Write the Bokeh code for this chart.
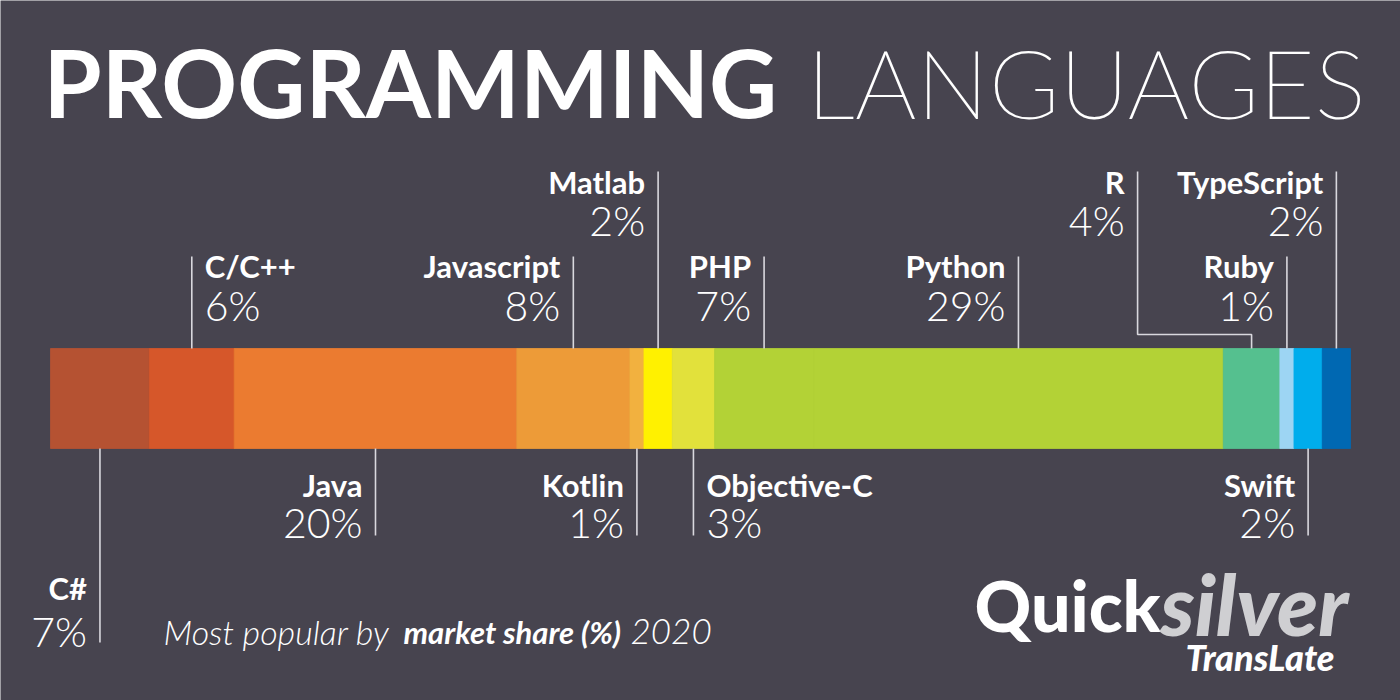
from bokeh.plotting import figure
from bokeh.models import ColumnDataSource, Range1d
from bokeh.core.properties import value
from bokeh.embed import file_html
from bokeh.resources import INLINE

# ---------------- data ----------------
languages = ["C#", "C/C++", "Java", "Javascript", "Kotlin", "Matlab", "Objective-C",
             "PHP", "Python", "R", "Ruby", "Swift", "TypeScript"]
share = [7, 6, 20, 8, 1, 2, 3, 7, 29, 4, 1, 2, 2]
colors = ["#b55232", "#d6572a", "#eb7b30", "#ed9b38", "#f2b13f", "#fff100", "#e2e13b",
          "#b3d236", "#b3d236", "#55c08f", "#9dd5f3", "#00adec", "#0068b2"]
title_bold = "PROGRAMMING"
title_light = "LANGUAGES"
subtitle_parts = ["Most popular by", "market share (%)", "2020"]
logo_parts = ["Quick", "silver", "TransLate"]

# ---------------- layout ----------------
W, H = 1400, 700
BG = "#47444f"
BAR_L, BAR_R = 50, 1350          # px
BAR_TOP, BAR_BOT = 348, 448      # px from top
total = sum(share)
u = total / (BAR_R - BAR_L)      # data units per pixel
x0 = -BAR_L * u
x1 = total + (W - BAR_R) * u

p = figure(width=W, height=H, output_backend="svg", toolbar_location=None,
           x_range=Range1d(x0, x1), y_range=Range1d(H, 0),
           min_border=0, background_fill_color=BG, border_fill_color=BG,
           outline_line_color=None)
p.axis.visible = False
p.grid.visible = False

left, right = [], []
acc = 0
for s in share:
    left.append(acc)
    acc += s
    right.append(acc)
centers = [(a + b) / 2 for a, b in zip(left, right)]

bars = ColumnDataSource(dict(left=left, right=right, color=colors, name=languages))
p.quad(left="left", right="right", top=BAR_TOP, bottom=BAR_BOT, fill_color="color",
       line_color="color", line_width=0.8, source=bars)

placement = {
    "C#": ("bottom", 2, "right"),
    "C/C++": ("top", 2, "left"),
    "Java": ("bottom", 1, "right"),
    "Javascript": ("top", 2, "right"),
    "Kotlin": ("bottom", 1, "right"),
    "Matlab": ("top", 1, "right"),
    "Objective-C": ("bottom", 1, "left"),
    "PHP": ("top", 2, "right"),
    "Python": ("top", 2, "right"),
    "R": ("top", 1, "right"),
    "Ruby": ("top", 2, "right"),
    "Swift": ("bottom", 1, "right"),
    "TypeScript": ("top", 1, "right"),
}
# (line end, name centre, pct centre)  -- px from top
levels = {
    ("top", 1): (171, 181, 220),
    ("top", 2): (256, 265, 305),
    ("bottom", 1): (535, 484, 522),
    ("bottom", 2): (642, 587, 631),
}
R_ELBOW_PX = -114
R_ELBOW_Y = 334
GAP = 13

xs, ys = [], []
tx, tname_y, tpct_y, talign, toff, tname, tpct = [], [], [], [], [], [], []
for lang, s, c in zip(languages, share, centers):
    side, lvl, align = placement[lang]
    end, ny, py = levels[(side, lvl)]
    edge = BAR_TOP if side == "top" else BAR_BOT
    if lang == "R":
        lx = c + R_ELBOW_PX * u
        xs.append([c, c, lx, lx])
        ys.append([edge, R_ELBOW_Y, R_ELBOW_Y, end])
    else:
        lx = c
        xs.append([c, c])
        ys.append([edge, end])
    tx.append(lx)
    tname_y.append(ny)
    tpct_y.append(py)
    talign.append(align)
    toff.append(GAP if align == "left" else -GAP)
    tname.append(lang)
    tpct.append(f"{s}%")

p.multi_line(xs=xs, ys=ys, line_color="#d9d8de", line_width=1.6)

lab = ColumnDataSource(dict(x=tx, ny=tname_y, py=tpct_y, align=talign, off=toff,
                            name=tname, pct=tpct))
p.text(x="x", y="ny", text="name", x_offset="off", text_align="align",
       text_baseline="middle", text_font=value("Lato"), text_font_style="bold",
       text_font_size="31px", text_color="white", source=lab)
p.text(x="x", y="py", text="pct", x_offset="off", text_align="align",
       text_baseline="middle", text_font=value("Lato Light"),
       text_font_size="41px", text_color="white", source=lab)


def deco(px, py, text, font, style, size, color="white"):
    p.text(x=[x0 + px * u], y=[py], text=[text], text_align="left",
           text_baseline="middle", text_font=value(font), text_font_style=style,
           text_font_size=size, text_color=color)


# title
deco(43, 81, title_bold, "Lato", "bold", "94px")
deco(806, 81, title_light, "Lato Thin", "normal", "96px")

# subtitle
deco(163, 631, subtitle_parts[0], "Lato Light", "italic", "34px")
deco(403, 631, subtitle_parts[1], "Lato", "bold italic", "31px")
deco(630, 631, subtitle_parts[2], "Lato Light", "italic", "35px")

# logo
deco(974, 604, logo_parts[0], "Lato Black", "bold", "70px")
deco(1160, 603, logo_parts[1], "Lato Black", "bold italic", "84px", "#cfcfd2")
deco(1185, 656, logo_parts[2], "Lato Black", "bold italic", "36px")

open("out.html", "w").write(file_html(p, INLINE))
